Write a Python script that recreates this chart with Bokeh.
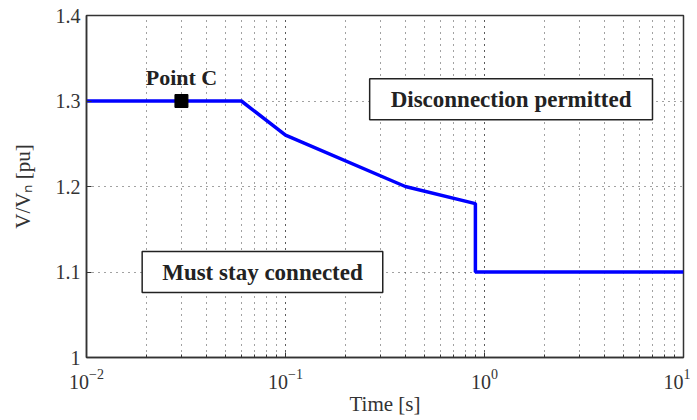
from bokeh.plotting import figure
from bokeh.models import Label, FixedTicker, LogTicker
from bokeh.embed import file_html
from bokeh.resources import INLINE

# Data
time_s = [0.01, 0.06, 0.1, 0.4, 0.9, 0.9, 10.0]
volt_pu = [1.3, 1.3, 1.26, 1.2, 1.18, 1.1, 1.1]
point_c_t = [0.03]
point_c_v = [1.3]
y_ticks = [1.0, 1.1, 1.2, 1.3, 1.4]

p = figure(width=690, height=418, x_axis_type="log", x_range=(0.01, 10), y_range=(1.0, 1.4),
           output_backend="svg", toolbar_location=None,
           min_border_left=86, min_border_right=7, min_border_top=15, min_border_bottom=60)

p.outline_line_color = "#333333"
p.outline_line_width = 1.5
p.background_fill_color = "white"
p.border_fill_color = "white"

p.line(time_s, volt_pu, line_color="#0000ff", line_width=3.5)
p.scatter(point_c_t, point_c_v, marker="square", size=13, fill_color="black", line_color="black")

p.yaxis.ticker = FixedTicker(ticks=y_ticks)
p.yaxis.major_label_overrides = {1.0: "1", 1.1: "1.1", 1.2: "1.2", 1.3: "1.3", 1.4: "1.4"}
p.xaxis.ticker = LogTicker(num_minor_ticks=10)

for ax in (p.xaxis, p.yaxis):
    ax.axis_line_color = "#333333"
    ax.axis_line_width = 1.5
    ax.major_tick_in = 5
    ax.major_tick_out = 0
    ax.minor_tick_in = 3
    ax.minor_tick_out = 0
    ax.major_tick_line_color = "#333333"
    ax.minor_tick_line_color = "#333333"
    ax.major_label_text_font = "Liberation Serif"
    ax.major_label_text_font_size = "20px"
    ax.major_label_text_color = "#333333"
    ax.axis_label_text_font = "Liberation Serif"
    ax.axis_label_text_font_size = "21px"
    ax.axis_label_text_font_style = "normal"
    ax.axis_label_text_color = "#333333"
p.yaxis.minor_tick_line_color = None

p.xaxis.axis_label = "Time [s]"
p.yaxis.axis_label = "V/Vₙ [pu]"
p.xaxis.major_label_standoff = 11
p.yaxis.major_label_standoff = 6
p.xaxis.axis_label_standoff = 0
p.yaxis.axis_label_standoff = 18

p.xgrid.grid_line_color = "#444444"
p.xgrid.grid_line_dash = "1 5"
p.xgrid.minor_grid_line_color = "#444444"
p.xgrid.minor_grid_line_dash = "1 5"
p.ygrid.grid_line_color = "#444444"
p.ygrid.grid_line_dash = "1 5"

p.add_layout(Label(x=0.03, y=1.328, text="Point C", text_align="center", text_baseline="alphabetic",
                   text_font="Liberation Serif", text_font_style="bold", text_font_size="22px",
                   text_color="#222222"))
p.add_layout(Label(x=1.36, y=1.302, text="Disconnection permitted", text_align="center",
                   text_baseline="middle", text_font="Liberation Serif", text_font_style="bold",
                   text_font_size="23px", text_color="#222222",
                   background_fill_color="white", border_line_color="#222222", border_line_width=1.5,
                   padding=dict(left=21, right=21, top=8, bottom=8)))
p.add_layout(Label(x=0.0766, y=1.1, text="Must stay connected", text_align="center",
                   text_baseline="middle", text_font="Liberation Serif", text_font_style="bold",
                   text_font_size="23px", text_color="#222222",
                   background_fill_color="white", border_line_color="#222222", border_line_width=1.5,
                   padding=dict(left=20, right=20, top=8, bottom=8)))

open("out.html", "w").write(file_html(p, INLINE))
